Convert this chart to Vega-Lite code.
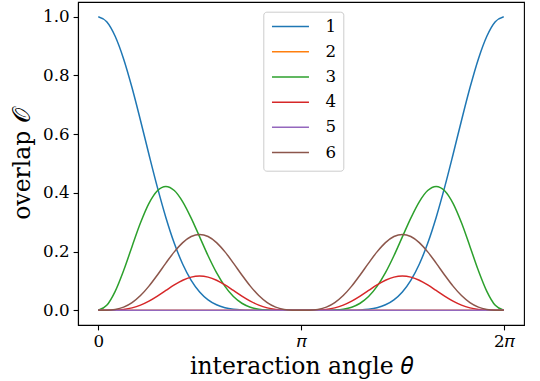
{
 "$schema": "https://vega.github.io/schema/vega-lite/v6.json",
 "width": 446,
 "height": 323,
 "autosize": {"type": "none"},
 "padding": {"left": 78, "top": 2, "right": 16, "bottom": 56},
 "background": "white",
 "config": {
  "view": {"stroke": "black", "strokeWidth": 1.1},
  "font": "DejaVu Serif",
  "axis": {
   "grid": false,
   "domainColor": "black",
   "domainWidth": 1.1,
   "tickColor": "black",
   "tickWidth": 1.1,
   "tickSize": 4.9,
   "labelPadding": 4,
   "labelFont": "DejaVu Serif",
   "labelFontSize": 16.7,
   "labelColor": "black",
   "titleFont": "DejaVu Serif",
   "titleFontSize": 23.5,
   "titleFontWeight": "normal",
   "titleColor": "black"
  }
 },
 "data": {"values": [
  {"t":0,"1":1,"2":0,"3":0,"4":0,"5":0,"6":0},
  {"t":0.041667,"1":0.983,"2":0,"3":0.0169,"4":0.00005,"5":0,"6":0.00031},
  {"t":0.083333,"1":0.93357,"2":0,"3":0.06474,"4":0.00069,"5":0,"6":0.00299},
  {"t":0.125,"1":0.85624,"2":0,"3":0.13551,"4":0.00304,"5":0,"6":0.01087},
  {"t":0.166667,"1":0.75779,"2":0,"3":0.21764,"4":0.00838,"5":0,"6":0.02625},
  {"t":0.208333,"1":0.64647,"2":0,"3":0.29796,"4":0.01771,"5":0,"6":0.05025},
  {"t":0.25,"1":0.53079,"2":0,"3":0.36428,"4":0.0313,"5":0,"6":0.08237},
  {"t":0.291667,"1":0.41865,"2":0,"3":0.40725,"4":0.04847,"5":0,"6":0.12042},
  {"t":0.333333,"1":0.31641,"2":0,"3":0.42188,"4":0.06762,"5":0,"6":0.16082},
  {"t":0.375,"1":0.22844,"2":0,"3":0.40797,"4":0.08645,"5":0,"6":0.19906},
  {"t":0.416667,"1":0.15694,"2":0,"3":0.36963,"4":0.10238,"5":0,"6":0.23056},
  {"t":0.458333,"1":0.1021,"2":0,"3":0.31409,"4":0.11305,"5":0,"6":0.25127},
  {"t":0.5,"1":0.0625,"2":0,"3":0.25,"4":0.1168,"5":0,"6":0.2585},
  {"t":0.541667,"1":0.03572,"2":0,"3":0.18577,"4":0.11305,"5":0,"6":0.25127},
  {"t":0.583333,"1":0.01886,"2":0,"3":0.12815,"4":0.10238,"5":0,"6":0.23056},
  {"t":0.625,"1":0.00908,"2":0,"3":0.08133,"4":0.08645,"5":0,"6":0.19906},
  {"t":0.666667,"1":0.00391,"2":0,"3":0.04688,"4":0.06762,"5":0,"6":0.16082},
  {"t":0.708333,"1":0.00146,"2":0,"3":0.02409,"4":0.04847,"5":0,"6":0.12042},
  {"t":0.75,"1":0.00046,"2":0,"3":0.01072,"4":0.0313,"5":0,"6":0.08237},
  {"t":0.791667,"1":0.00011,"2":0,"3":0.00396,"4":0.01771,"5":0,"6":0.05025},
  {"t":0.833333,"1":0.00002,"2":0,"3":0.00112,"4":0.00838,"5":0,"6":0.02625},
  {"t":0.875,"1":0,"2":0,"3":0.00021,"4":0.00304,"5":0,"6":0.01087},
  {"t":0.916667,"1":0,"2":0,"3":0.00002,"4":0.00069,"5":0,"6":0.00299},
  {"t":0.958333,"1":0,"2":0,"3":0,"4":0.00005,"5":0,"6":0.00031},
  {"t":1,"1":0,"2":0,"3":0,"4":0,"5":0,"6":0},
  {"t":1.041667,"1":0,"2":0,"3":0,"4":0.00005,"5":0,"6":0.00031},
  {"t":1.083333,"1":0,"2":0,"3":0.00002,"4":0.00069,"5":0,"6":0.00299},
  {"t":1.125,"1":0,"2":0,"3":0.00021,"4":0.00304,"5":0,"6":0.01087},
  {"t":1.166667,"1":0.00002,"2":0,"3":0.00112,"4":0.00838,"5":0,"6":0.02625},
  {"t":1.208333,"1":0.00011,"2":0,"3":0.00396,"4":0.01771,"5":0,"6":0.05025},
  {"t":1.25,"1":0.00046,"2":0,"3":0.01072,"4":0.0313,"5":0,"6":0.08237},
  {"t":1.291667,"1":0.00146,"2":0,"3":0.02409,"4":0.04847,"5":0,"6":0.12042},
  {"t":1.333333,"1":0.00391,"2":0,"3":0.04688,"4":0.06762,"5":0,"6":0.16082},
  {"t":1.375,"1":0.00908,"2":0,"3":0.08133,"4":0.08645,"5":0,"6":0.19906},
  {"t":1.416667,"1":0.01886,"2":0,"3":0.12815,"4":0.10238,"5":0,"6":0.23056},
  {"t":1.458333,"1":0.03572,"2":0,"3":0.18577,"4":0.11305,"5":0,"6":0.25127},
  {"t":1.5,"1":0.0625,"2":0,"3":0.25,"4":0.1168,"5":0,"6":0.2585},
  {"t":1.541667,"1":0.1021,"2":0,"3":0.31409,"4":0.11305,"5":0,"6":0.25127},
  {"t":1.583333,"1":0.15694,"2":0,"3":0.36963,"4":0.10238,"5":0,"6":0.23056},
  {"t":1.625,"1":0.22844,"2":0,"3":0.40797,"4":0.08645,"5":0,"6":0.19906},
  {"t":1.666667,"1":0.31641,"2":0,"3":0.42188,"4":0.06762,"5":0,"6":0.16082},
  {"t":1.708333,"1":0.41865,"2":0,"3":0.40725,"4":0.04847,"5":0,"6":0.12042},
  {"t":1.75,"1":0.53079,"2":0,"3":0.36428,"4":0.0313,"5":0,"6":0.08237},
  {"t":1.791667,"1":0.64647,"2":0,"3":0.29796,"4":0.01771,"5":0,"6":0.05025},
  {"t":1.833333,"1":0.75779,"2":0,"3":0.21764,"4":0.00838,"5":0,"6":0.02625},
  {"t":1.875,"1":0.85624,"2":0,"3":0.13551,"4":0.00304,"5":0,"6":0.01087},
  {"t":1.916667,"1":0.93357,"2":0,"3":0.06474,"4":0.00069,"5":0,"6":0.00299},
  {"t":1.958333,"1":0.983,"2":0,"3":0.0169,"4":0.00005,"5":0,"6":0.00031},
  {"t":2,"1":1,"2":0,"3":0,"4":0,"5":0,"6":0}
 ]},
 "transform": [{"fold": ["1","2","3","4","5","6"], "as": ["series","overlap"]}],
 "mark": {"type": "line", "strokeWidth": 1.5, "interpolate": "monotone"},
 "encoding": {
  "x": {
   "field": "t", "type": "quantitative",
   "scale": {"domain": [-0.1, 2.1], "nice": false, "zero": false},
   "axis": {"values": [0, 1, 2], "labelExpr": "datum.value == 0 ? '0' : (datum.value == 1 ? '𝜋' : '2𝜋')", "title": "interaction angle 𝜃", "titlePadding": 4}
  },
  "y": {
   "field": "overlap", "type": "quantitative",
   "scale": {"domain": [-0.05, 1.05], "nice": false, "zero": false},
   "axis": {"values": [0, 0.2, 0.4, 0.6, 0.8, 1.0], "format": ".1f", "title": "overlap 𝒪", "titlePadding": 8}
  },
  "color": {
   "field": "series", "type": "nominal",
   "scale": {"domain": ["1","2","3","4","5","6"], "range": ["#1f77b4","#ff7f0e","#2ca02c","#d62728","#9467bd","#8c564b"]},
   "legend": {
    "title": null, "orient": "none", "legendX": 185.3, "legendY": 9.7,
    "symbolType": "M-1,-2.4M-1,0H5M-1,1.36", "symbolSize": 152, "symbolStrokeWidth": 1.5,
    "labelFont": "DejaVu Serif", "labelFontSize": 16.7, "labelColor": "black", "labelOffset": 39,
    "padding": 6.5, "rowPadding": -4.8,
    "strokeColor": "#cccccc", "fillColor": "white", "cornerRadius": 3
   }
  }
 }
}
